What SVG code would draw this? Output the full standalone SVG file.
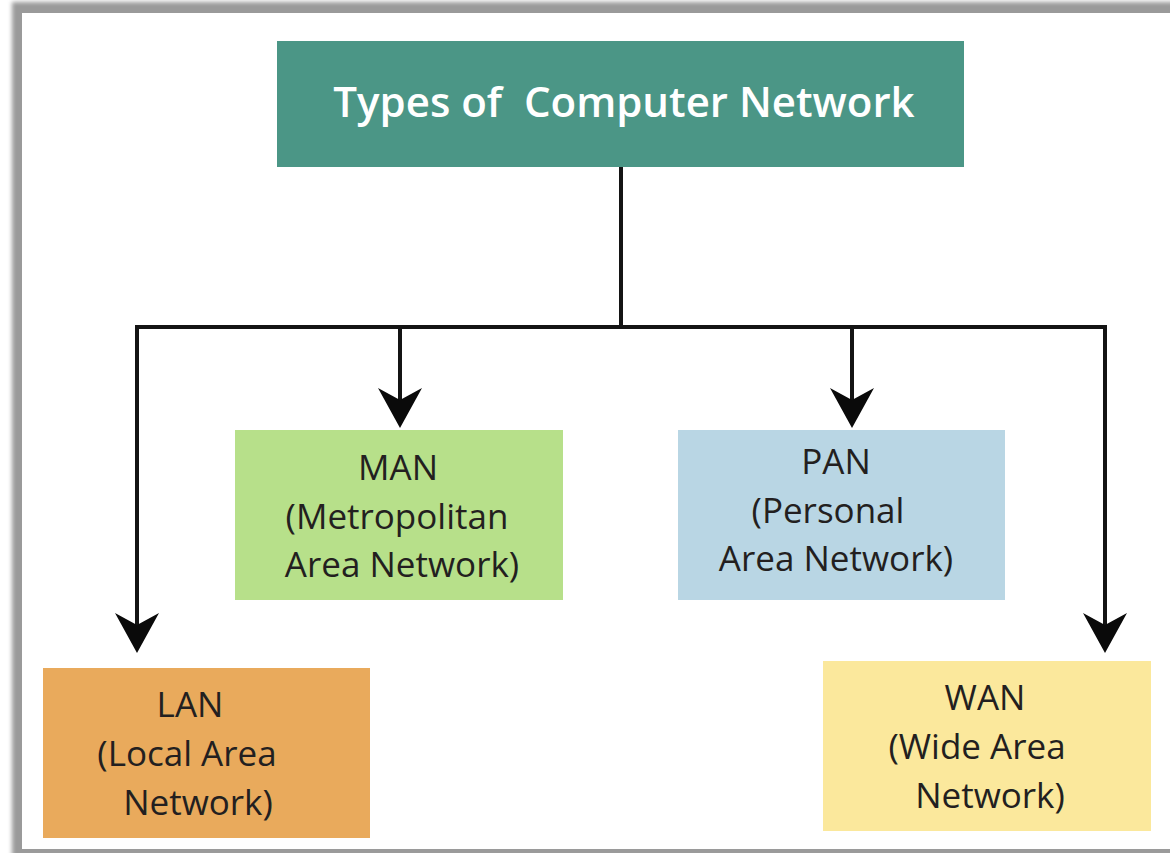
<svg xmlns="http://www.w3.org/2000/svg" width="1170" height="853" viewBox="0 0 1170 853">
<style>
.lbl{font-family:"Open Sans","Noto Sans",sans-serif;font-size:35px;fill:#231f20;text-anchor:middle}
.title{font-family:"Open Sans","Noto Sans",sans-serif;font-size:42px;fill:#ffffff;text-anchor:middle;font-weight:600}
.conn{fill:none;stroke:#141414;stroke-width:4;stroke-linejoin:miter}
</style>
<defs>
<filter id="soft" x="-5%" y="-5%" width="110%" height="110%"><feGaussianBlur stdDeviation="2"/></filter>
<marker id="arr" viewBox="0 0 40 44" refX="25" refY="22" markerWidth="40" markerHeight="44" markerUnits="userSpaceOnUse" orient="auto">
<path d="M0,0 L40,22 L0,44 L12,22 Z" fill="#0a0a0a"/>
</marker>
</defs>
<rect x="0" y="0" width="1170" height="853" fill="#ffffff"/>
<g id="frame">
<rect x="12" y="2" width="1175" height="855" fill="#9a9a9a" filter="url(#soft)"/>
<rect x="22" y="13" width="1160" height="836" fill="#ffffff"/>
</g>
<g id="connectors">
<path class="conn" d="M621,167 V327"/>
<path class="conn" d="M621,327 H137 V638" marker-end="url(#arr)"/>
<path class="conn" d="M621,327 H1105 V638" marker-end="url(#arr)"/>
<path class="conn" d="M400,327 V413" marker-end="url(#arr)"/>
<path class="conn" d="M852,327 V413" marker-end="url(#arr)"/>
</g>
<g id="root">
<rect x="277" y="41" width="687" height="126" fill="#4b9686"/>
<text class="title" x="624" y="117" xml:space="preserve">Types of  Computer Network</text>
</g>
<g id="man">
<rect x="235" y="430" width="328" height="170" fill="#b7e08a"/>
<text class="lbl" x="398" y="480">MAN</text>
<text class="lbl" x="397" y="529">(Metropolitan</text>
<text class="lbl" x="402" y="577">Area Network)</text>
</g>
<g id="pan">
<rect x="678" y="430" width="327" height="170" fill="#b9d6e4"/>
<text class="lbl" x="836" y="474">PAN</text>
<text class="lbl" x="828" y="523">(Personal</text>
<text class="lbl" x="836" y="571">Area Network)</text>
</g>
<g id="lan">
<rect x="43" y="668" width="327" height="170" fill="#e9aa5c"/>
<text class="lbl" x="190" y="717">LAN</text>
<text class="lbl" x="187" y="766">(Local Area</text>
<text class="lbl" x="198" y="815">Network)</text>
</g>
<g id="wan">
<rect x="823" y="661" width="328" height="170" fill="#fbe89c"/>
<text class="lbl" x="985" y="710">WAN</text>
<text class="lbl" x="977" y="759">(Wide Area</text>
<text class="lbl" x="990" y="808">Network)</text>
</g>
</svg>
